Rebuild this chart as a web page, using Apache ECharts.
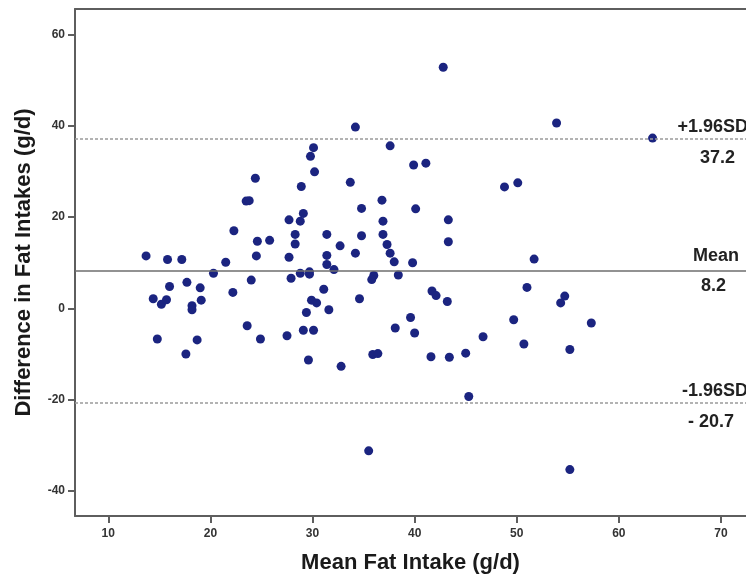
<!DOCTYPE html>
<html>
<head>
<meta charset="utf-8">
<script src="https://cdn.jsdelivr.net/npm/echarts@6/dist/echarts.min.js"></script>
<style>
    html, body { margin: 0; padding: 0; background: #fff; }
    #chart { width: 746px; height: 579px; }
</style>
</head>
<body>
<div id="chart"></div>
<script>
// Bland-Altman: mean of the two methods vs. their difference
var meanFat = [13.7, 14.4, 14.8, 15.2, 15.7, 15.8, 17.2, 16.0, 17.7, 19.0,
    18.2, 18.2, 19.1, 18.7, 17.6, 20.3, 21.5, 22.2, 22.3, 23.5,
    23.8, 24.4, 24.0, 23.6, 24.9, 24.6, 25.8, 24.5, 27.7, 28.9,
    29.1, 28.8, 28.3, 28.3, 27.7, 27.9, 28.8, 29.7, 29.7, 29.8,
    30.1, 30.2, 31.4, 31.4, 31.4, 31.1, 29.9, 30.4, 29.4, 31.6,
    29.1, 30.1, 27.5, 29.6, 32.1, 32.8, 32.7, 33.7, 34.2, 34.8,
    34.8, 34.2, 34.6, 36.0, 35.8, 35.9, 36.4, 35.5, 36.8, 36.9,
    36.9, 37.3, 37.6, 37.6, 38.0, 38.4, 38.1, 39.6, 40.0, 39.8,
    39.9, 41.1, 40.1, 41.6, 41.7, 42.1, 42.8, 43.3, 43.3, 43.2,
    43.4, 45.0, 45.3, 46.7, 48.8, 50.1, 49.7, 50.7, 51.0, 51.7,
    53.9, 54.7, 54.3, 55.2, 55.2, 57.3, 63.3];
var diffFat = [11.5, 2.1, -6.7, 0.9, 1.9, 10.7, 10.7, 4.8, 5.7, 4.5,
    0.6, -0.3, 1.8, -6.9, -10.0, 7.7, 10.1, 3.5, 17.0, 23.5,
    23.6, 28.5, 6.2, -3.8, -6.7, 14.7, 14.9, 11.5, 19.4, 26.7,
    20.8, 19.1, 16.2, 14.1, 11.2, 6.6, 7.7, 8.0, 7.5, 33.3,
    35.2, 29.9, 16.2, 11.6, 9.6, 4.2, 1.8, 1.2, -0.9, -0.3,
    -4.8, -4.8, -6.0, -11.3, 8.5, -12.7, 13.7, 27.6, 39.7, 21.9,
    15.9, 12.1, 2.1, 7.2, 6.3, -10.1, -9.9, -31.2, 23.7, 19.1,
    16.2, 14.0, 12.1, 35.6, 10.2, 7.3, -4.3, -2.0, -5.4, 10.0,
    31.4, 31.8, 21.8, -10.6, 3.8, 2.8, 52.8, 19.4, 14.6, 1.5,
    -10.7, -9.8, -19.3, -6.2, 26.6, 27.5, -2.5, -7.8, 4.6, 10.8,
    40.6, 2.7, 1.2, -9.0, -35.3, -3.2, 37.3];

var limitValues = [37.2, 8.2, -20.7];
var limitNames = ['+1.96SD', 'Mean', '-1.96SD'];
var limitTexts = ['37.2', '8.2', '- 20.7'];

var xTicks = [10, 20, 30, 40, 50, 60, 70];
var yTicks = [-40, -20, 0, 20, 40, 60];

var font = 'Liberation Sans, Arial, sans-serif';
var axisColor = '#5e5e5e';

var points = meanFat.map(function (m, i) {
    return [m, diffFat[i]];
});

// two markLine entries per limit: one carries the name above, one the value below
var lineStyles = [
    {color: '#9a9a9a', width: 1.5, type: [3, 2]},
    {color: '#6e6e6e', width: 1.5, type: 'solid'},
    {color: '#9a9a9a', width: 1.5, type: [3, 2]}
];
var nameShift = [[-2, 3], [7, 6], [-2, 3]];
var valueShift = [[11, 10], [20, 6], [12, 10]];
var labelText = {fontFamily: font, fontSize: 18, fontWeight: 'bold', color: '#222'};
var markData = [];
limitValues.forEach(function (v, i) {
    markData.push({
        yAxis: v,
        lineStyle: lineStyles[i],
        label: Object.assign({formatter: limitNames[i], position: 'insideEndTop', distance: nameShift[i]}, labelText)
    });
    markData.push({
        yAxis: v,
        lineStyle: {color: 'rgba(0,0,0,0)', width: 1},
        label: Object.assign({formatter: limitTexts[i], position: 'insideEndBottom', distance: valueShift[i]}, labelText)
    });
});

var chart = echarts.init(document.getElementById('chart'));

var option = {
    animation: false,
    grid: {left: 75, right: 0, top: 9, bottom: 62, containLabel: false},
    xAxis: [
        {
            type: 'value',
            min: 6.74,
            max: 72.45,
            name: 'Mean Fat Intake (g/d)',
            nameLocation: 'middle',
            nameGap: 36,
            nameTextStyle: {fontFamily: font, fontSize: 22, fontWeight: 'bold', color: '#1a1a1a'},
            splitLine: {show: false},
            axisLine: {onZero: false, lineStyle: {color: axisColor, width: 2}},
            axisTick: {length: 7, lineStyle: {color: axisColor, width: 2}, customValues: xTicks},
            axisLabel: {
                customValues: xTicks, margin: 12,
                fontFamily: font, fontSize: 12, fontWeight: 'bold', color: '#333'
            }
        },
        {
            type: 'value',
            position: 'top',
            min: 6.74,
            max: 72.45,
            splitLine: {show: false},
            axisLine: {show: true, onZero: false, lineStyle: {color: axisColor, width: 2}},
            axisTick: {show: false},
            axisLabel: {show: false}
        }
    ],
    yAxis: {
        type: 'value',
        min: -45.47,
        max: 65.57,
        name: 'Difference in Fat Intakes (g/d)',
        nameLocation: 'middle',
        nameGap: 40,
        nameTextStyle: {fontFamily: font, fontSize: 22, fontWeight: 'bold', color: '#1a1a1a'},
        splitLine: {show: false},
        axisLine: {show: true, onZero: false, lineStyle: {color: axisColor, width: 2}},
        axisTick: {show: true, length: 7, lineStyle: {color: axisColor, width: 2}, customValues: yTicks},
        axisLabel: {
            customValues: yTicks, margin: 10,
            fontFamily: font, fontSize: 12, fontWeight: 'bold', color: '#333'
        }
    },
    series: [
        {
            type: 'scatter',
            data: points,
            symbolSize: 9,
            itemStyle: {color: '#1b2480', opacity: 1},
            markLine: {
                silent: true,
                symbol: ['none', 'none'],
                data: markData
            }
        }
    ]
};

chart.setOption(option);
</script>
</body>
</html>
